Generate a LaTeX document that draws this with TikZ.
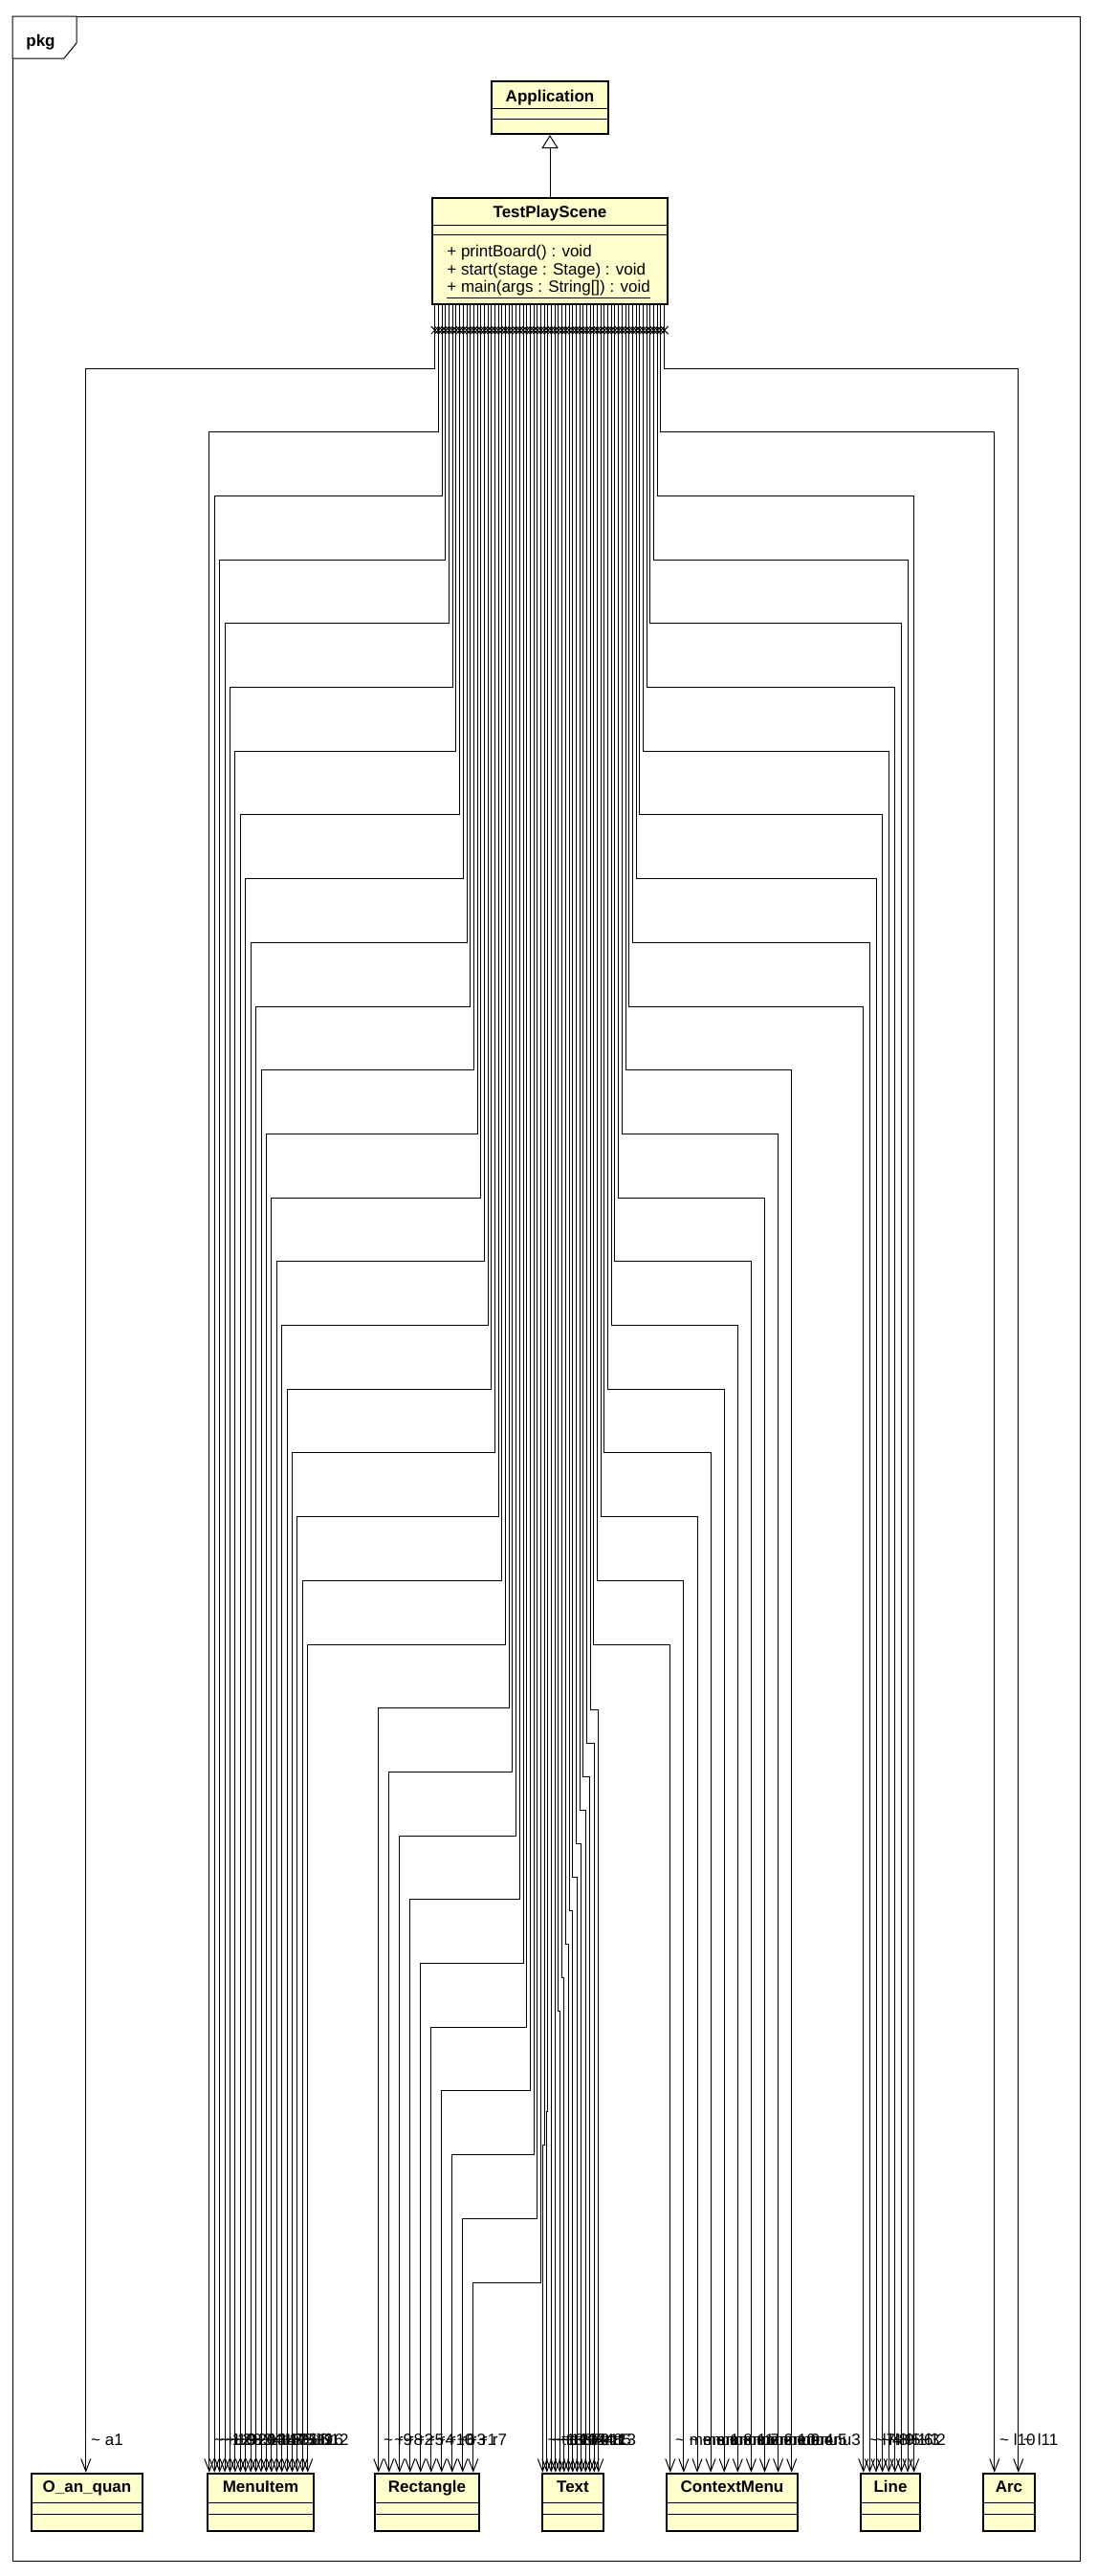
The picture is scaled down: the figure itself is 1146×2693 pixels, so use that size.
\documentclass[tikz,border=0pt]{standalone}
\usepackage{fontspec}
\setmainfont{Liberation Sans}
\usetikzlibrary{arrows.meta,calc,fit}
\definecolor{classyellow}{RGB}{255,255,206}

% one dependency: source index, y of the run, target node, offset on target, role name
\newcommand{\assoc}[5]{%
  \pgfmathsetmacro\sx{4+(#1-1)*3.69}%
  \coordinate (src) at ($(tps.south west)+(\sx,0)$);
  \coordinate (dst) at ($(#3.north west)+(#4,0)$);
  \draw[dep] (src) -- (src |- 0,#2) -- (dst |- 0,#2) -- (dst);
  \draw[xmark] ($(src)+(-4,22)$) -- ($(src)+(4,30)$) ($(src)+(-4,30)$) -- ($(src)+(4,22)$);
  \node[rolelab] at ($(dst)+(5,-28)$) {\textasciitilde\ #5};
}

\begin{document}
\begin{tikzpicture}[
  x=0.5pt,y=-0.5pt,font=\fontsize{8.5}{10}\selectfont,
  dep/.style={-{Straight Barb[length=6.5pt,width=5pt]},line width=0.5pt},
  xmark/.style={line width=0.5pt},
  gen/.style={-{Triangle[open,length=7pt,width=8.7pt]},line width=0.5pt},
  classbox/.style={draw,line width=1.2pt,fill=classyellow,inner sep=0pt},
  compart/.style={line width=0.5pt},
  classname/.style={font=\fontsize{8.5}{10}\selectfont\bfseries,anchor=base,inner sep=0pt},
  member/.style={anchor=base west,inner sep=0pt},
  rolelab/.style={anchor=base west,inner sep=0pt},
  frame/.style={line width=0.5pt}
]
\path[fill=white] (0,0) rectangle (1146,2693);
% ---------- package frame
\draw[frame] (13,17) rectangle (1129,2677);
\draw[frame,fill=white] (13,17) -- (80,17) -- (80,45) -- (67,61) -- (13,61) -- cycle;
\node[classname,anchor=base west] (pkg) at (27,48) {pkg};
% ---------- top classes
\node[classbox,fit={(514,85) (636,140)}] (app) {};
\node[classname] (appname) at (575,106) {Application};
\draw[compart] ($(app.north west)+(0,30)$) -- ($(app.north east)+(0,30)$);
\draw[compart] ($(app.north west)+(0,41)$) -- ($(app.north east)+(0,41)$);
\node[classbox,fit={(452,207) (698,318)}] (tps) {};
\node[classname] (tpsname) at (575,227) {TestPlayScene};
\draw[compart] ($(tps.north west)+(0,30)$) -- ($(tps.north east)+(0,30)$);
\draw[compart] ($(tps.north west)+(0,40)$) -- ($(tps.north east)+(0,40)$);
\node[member] (m1) at (467,268) {+ printBoard() : void};
\node[member] (m2) at (467,287) {+ start(stage : Stage) : void};
\node[member] (m3) at (467,305) {\underline{+ main(args : String[]) : void}};
\draw[gen] (tps.north) -- (app.south);
% ---------- bottom classes
\foreach \nm/\xa/\xb/\ttl in {oquan/33/149/O\_an\_quan, mitem/217/328/MenuItem,
    rectc/392/501/Rectangle, textc/567/631/Text, cmenu/697/834/ContextMenu,
    linec/900/962/Line, arcc/1028/1082/Arc}{
  \node[classbox,fit={(\xa,2586) (\xb,2646)}] (\nm) {};
  \node[classname] at ($(\nm.north)+(0,21)$) {\ttl};
  \draw[compart] ($(\nm.north west)+(0,32)$) -- ($(\nm.north east)+(0,32)$);
  \draw[compart] ($(\nm.north west)+(0,44)$) -- ($(\nm.north east)+(0,44)$);
}
% ---------- dependencies, left side
\assoc{1}{385}{oquan}{58}{a1}
\foreach \lab [count=\j] in {i1,i10,i2,i9,i8,i20,i3,i13,i4,i14,i18,i17,i7,i15,i5,i11,i19,i6,i16,i12}{
  \pgfmathsetmacro\yl{385+\j*66.7}
  \pgfmathsetmacro\off{3+(\j-1)*5.42}
  \assoc{1+\j}{\yl}{mitem}{\off}{\lab}
}
\foreach \lab [count=\j] in {r9,r8,r2,r5,r4,r10,r6,r3,r1,r7}{
  \pgfmathsetmacro\yl{385+(20+\j)*66.7}
  \pgfmathsetmacro\off{5+(\j-1)*11}
  \assoc{21+\j}{\yl}{rectc}{\off}{\lab}
}
% ---------- dependencies, middle
\foreach \lab [count=\j] in {t1,t12,t3,t10,t6,t14,t7,t2,t9,t4,t11,t8,t13,t5}{
  \pgfmathsetmacro\yl{1787+(14-\j)*35}
  \pgfmathsetmacro\off{1.5+(\j-1)*4.5}
  \assoc{31+\j}{\yl}{textc}{\off}{\lab}
}
% ---------- dependencies, right side
\foreach \lab [count=\j] in {menu1,menu8,menu11,menu7,menu2,menu10,menu9,menu4,menu5,menu3}{
  \pgfmathsetmacro\yl{385+(21-\j)*66.7}
  \pgfmathsetmacro\off{5+(\j-1)*14.1}
  \assoc{45+\j}{\yl}{cmenu}{\off}{\lab}
}
\foreach \lab [count=\j] in {l7,l4,l8,l9,l5,l1,l6,l3,l2}{
  \pgfmathsetmacro\yl{385+(11-\j)*66.7}
  \pgfmathsetmacro\off{4+(\j-1)*6.6}
  \assoc{55+\j}{\yl}{linec}{\off}{\lab}
}
\assoc{65}{451.7}{arcc}{13}{l10}
\assoc{66}{385}{arcc}{38}{l11}
\end{tikzpicture}
\end{document}
